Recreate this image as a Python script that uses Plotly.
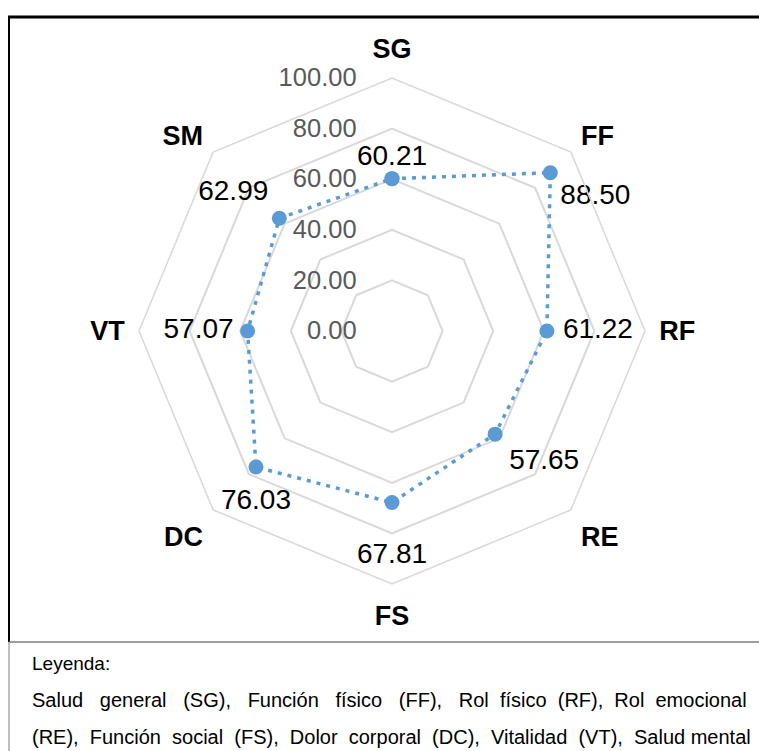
import plotly.graph_objects as go

categories = ["SG", "FF", "RF", "RE", "FS", "DC", "VT", "SM"]
values = [60.21, 88.50, 61.22, 57.65, 67.81, 76.03, 57.07, 62.99]
radial_ticks = [0, 20, 40, 60, 80, 100]
legend_title = "Leyenda:"
legend_lines = [
    "Salud general (SG), Función físico (FF), Rol físico (RF), Rol emocional",
    "(RE), Función social (FS), Dolor corporal (DC), Vitalidad (VT), Salud mental",
]

# ---- styling (label placement around each point) ----
label_positions = ["top center", "bottom right", "middle right", "bottom right",
                   "bottom center", "bottom center", "middle left", "top left"]
label_gap_sizes = [9.6, 14.4, 24, 20.8, 62, 32, 20.8, 16]
legend_extra_spaces = [16, 9]

W, H = 759, 751
BLUE = "#5B9BD5"
GRID = "#D9D9D9"
FONT = "Liberation Sans, Arial, sans-serif"


def px_x(x):
    return x / W


def px_y(y):
    return 1 - y / H


cx, cy, R = 392, 331, 253

fig = go.Figure()
# line + markers
fig.add_trace(go.Scatterpolar(
    r=values + [values[0]],
    theta=categories + [categories[0]],
    mode="lines+markers",
    line=dict(color=BLUE, width=3.5, dash="4px,6px"),
    marker=dict(color=BLUE, size=15, line=dict(width=0)),
    showlegend=False,
    hoverinfo="skip",
))
# data labels (transparent markers only set the label gap)
fig.add_trace(go.Scatterpolar(
    r=values,
    theta=categories,
    mode="markers+text",
    marker=dict(color="rgba(0,0,0,0)", size=label_gap_sizes,
                line=dict(width=0, color="rgba(0,0,0,0)")),
    text=[f"{v:.2f}" for v in values],
    textposition=label_positions,
    textfont=dict(family=FONT, size=28, color="#000000"),
    cliponaxis=False,
    showlegend=False,
    hoverinfo="skip",
))

fig.update_layout(
    width=W, height=H,
    margin=dict(l=0, r=0, t=0, b=0),
    paper_bgcolor="white",
    plot_bgcolor="white",
    polar=dict(
        domain=dict(x=[px_x(cx - R), px_x(cx + R)], y=[px_y(cy + R), px_y(cy - R)]),
        gridshape="linear",
        bgcolor="white",
        radialaxis=dict(
            range=[0, 100],
            tickvals=radial_ticks,
            tickformat=".2f",
            angle=90,
            tickangle=90,
            side="counterclockwise",
            showline=False,
            showgrid=True,
            gridcolor=GRID,
            gridwidth=1.5,
            ticks="outside",
            ticklen=26,
            tickcolor="rgba(0,0,0,0)",
            tickfont=dict(family=FONT, size=25.5, color="#595959"),
        ),
        angularaxis=dict(
            rotation=90,
            direction="clockwise",
            showgrid=False,
            showline=True,
            linecolor=GRID,
            linewidth=1.5,
            ticks="outside",
            ticklen=8,
            tickcolor="rgba(0,0,0,0)",
            tickfont=dict(family=FONT, size=27, color="#000000", weight="bold"),
        ),
    ),
)

shapes = [
    dict(type="line", x0=px_x(8), x1=px_x(800), y0=px_y(17), y1=px_y(17),
         line=dict(color="#000000", width=3)),
    dict(type="line", x0=px_x(9), x1=px_x(9), y0=px_y(16), y1=px_y(642),
         line=dict(color="#000000", width=2)),
    dict(type="line", x0=px_x(9), x1=px_x(800), y0=px_y(642), y1=px_y(642),
         line=dict(color="#7F7F7F", width=1.5)),
    dict(type="line", x0=px_x(9), x1=px_x(9), y0=px_y(642), y1=px_y(800),
         line=dict(color="#7F7F7F", width=1)),
]
fig.update_layout(shapes=shapes)


def justify(line, extra):
    words = line.split(" ")
    gaps = len(words) - 1
    out = words[0]
    for i, w in enumerate(words[1:]):
        n = 1 + extra // gaps + (1 if i < extra % gaps else 0)
        out += "\u00a0" * n + w
    return out


annotations = [
    dict(text=legend_title, x=px_x(30), y=px_y(663), xref="paper", yref="paper",
         xanchor="left", yanchor="middle", showarrow=False,
         font=dict(family=FONT, size=19, color="#000000")),
]
for i, line in enumerate(legend_lines):
    annotations.append(dict(text=justify(line, legend_extra_spaces[i]),
                            x=px_x(30), y=px_y(700 + 37 * i), xref="paper", yref="paper",
                            xanchor="left", yanchor="middle", showarrow=False,
                            font=dict(family=FONT, size=20, color="#000000")))
fig.update_layout(annotations=annotations)

fig.write_html(
    "out.html",
    config={"displayModeBar": False},
    post_script="document.body.style.margin='0';document.body.style.overflow='hidden';",
)
